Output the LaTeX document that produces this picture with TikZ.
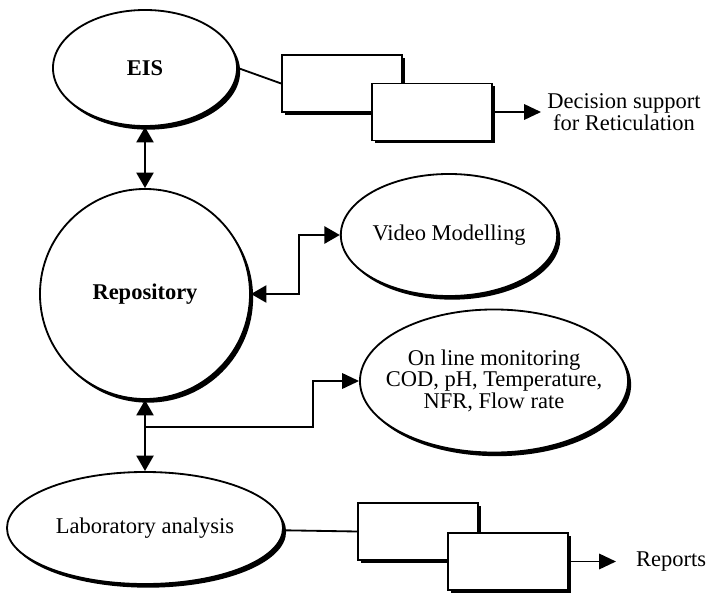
\documentclass[tikz,border=0pt]{standalone}
\usepackage{fontspec}
\setmainfont{Liberation Serif}
\usetikzlibrary{shapes.geometric,shadows,arrows.meta}

\begin{document}
\begin{tikzpicture}[
  x=0.025cm, y=-0.025cm,
  every node/.style={font=\fontsize{16}{14}\selectfont},
  blob/.style={ellipse, draw, line width=1.3pt, fill=white, inner sep=0pt, align=center,
    drop shadow={shadow xshift=2.2pt, shadow yshift=-2.6pt, fill=black, opacity=1}},
  blk/.style={rectangle, draw, line width=1.2pt, fill=white, minimum width=3cm, minimum height=1.425cm,
    drop shadow={shadow xshift=2pt, shadow yshift=-2pt, fill=black, opacity=1}},
  lbl/.style={align=center, inner sep=0pt},
  con/.style={line width=1.3pt, -{Triangle[length=12pt, width=11pt]}},
  dcon/.style={line width=2pt, {Triangle[length=11pt, width=12pt]}-{Triangle[length=11pt, width=12pt]}}
]
\useasboundingbox (0,0) rectangle (709,597);

% ellipses and the repository
\node[blob, minimum width=4.6cm, minimum height=2.9cm, font=\fontsize{16}{14}\selectfont\bfseries] (eis) at (145,68) {EIS};
\node[blob, circle, minimum size=5.25cm, font=\fontsize{16}{14}\selectfont\bfseries] (rep) at (145,294) {Repository};
\node[blob, minimum width=5.3cm, minimum height=3.05cm] (video) at (449,235) {Video Modelling};
\node[blob, inner xsep=-10pt, minimum width=6.7cm, minimum height=3.575cm] (online) at (494,381) {On line monitoring\\COD, pH, Temperature,\\NFR, Flow rate};
\node[blob, minimum width=6.9cm, minimum height=2.8cm] (lab) at (145,528) {Laboratory analysis};

% boxes
\node[blk] (tbox1) at (342,83.5) {};
\node[blk] (tbox2) at (432,112) {};
\node[blk] (bbox1) at (418,531.5) {};
\node[blk] (bbox2) at (508,561.5) {};

% outputs
\node[lbl] (dec) at (624,112) {Decision support\\for Reticulation};
\node[lbl] (rpt) at (671,562) {Reports};
\coordinate (decin) at (541,112);
\coordinate (rptin) at (616,561.5);
\coordinate (split) at (145,427);

% connectors
\draw[dcon] (eis.south) -- (rep.north);
\draw[dcon] (rep.south) -- (lab.north);
\draw[dcon] (rep.east) -- ++(48,0) |- (video.west);
\draw[con] (split) -- (313,427) |- (online.west);
\draw[line width=1.3pt] (eis.east) -- (tbox1.west);
\draw[line width=1.3pt] (lab) -- (bbox1.west);
\draw[con] (tbox2.east) -- (decin);
\draw[con] (bbox2.east) -- (rptin);
\end{tikzpicture}
\end{document}
